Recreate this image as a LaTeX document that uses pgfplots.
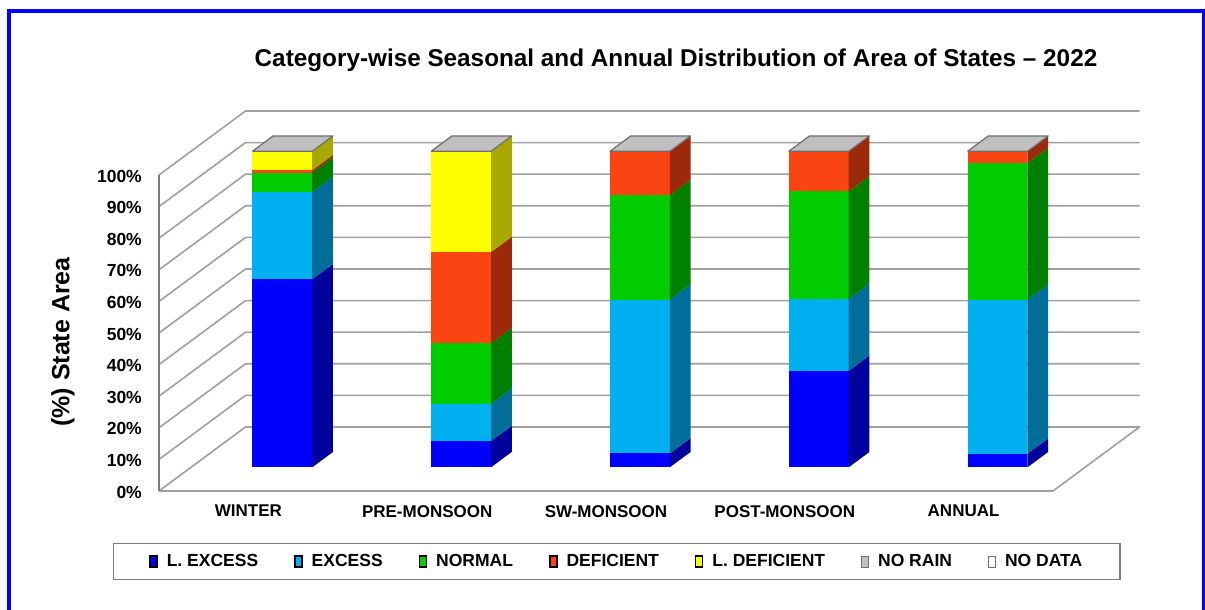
\documentclass[border=0pt]{standalone}
\usepackage{pgfplots}
\pgfplotsset{compat=1.18}
\usepackage{fontspec}
\setmainfont{Liberation Sans}

\definecolor{cLE}{HTML}{0000FF}\definecolor{cLEd}{HTML}{00009C}
\definecolor{cEX}{HTML}{00B0F0}\definecolor{cEXd}{HTML}{006E98}
\definecolor{cNO}{HTML}{00CC00}\definecolor{cNOd}{HTML}{008000}
\definecolor{cDE}{HTML}{FA4513}\definecolor{cDEd}{HTML}{9C2A0A}
\definecolor{cLD}{HTML}{FFFF00}\definecolor{cLDd}{HTML}{A8A800}
\definecolor{topc}{HTML}{C0C0C0}\definecolor{topd}{HTML}{6E6E6E}
\definecolor{gridc}{HTML}{A0A0A0}\definecolor{axc}{HTML}{7A7A7A}
\definecolor{frame}{HTML}{0000FF}

% one coloured segment of a bar: z0, z1, front colour, side colour (uses \xa, \xb)
\newcommand\seg[4]{%
  \addplot3[fill=#3,draw=none,forget plot] coordinates {(\xa,0.37,#1) (\xb,0.37,#1) (\xb,0.37,#2) (\xa,0.37,#2)};
  \addplot3[fill=#4,draw=none,forget plot] coordinates {(\xb,0.37,#1) (\xb,0.61,#1) (\xb,0.61,#2) (\xb,0.37,#2)};
}
% a stacked bar: centre, L.Excess, Excess, Normal, Deficient, L.Deficient
\newcommand\stackbar[6]{%
  \pgfmathsetmacro\ca{#2}%
  \pgfmathsetmacro\cb{#2+#3}%
  \pgfmathsetmacro\cc{#2+#3+#4}%
  \pgfmathsetmacro\cd{#2+#3+#4+#5}%
  \pgfmathsetmacro\ce{#2+#3+#4+#5+#6}%
  \pgfmathsetmacro\xa{#1-0.157}%
  \pgfmathsetmacro\xb{#1+0.178}%
  \seg{0}{\ca}{cLE}{cLEd}
  \seg{\ca}{\cb}{cEX}{cEXd}
  \seg{\cb}{\cc}{cNO}{cNOd}
  \seg{\cc}{\cd}{cDE}{cDEd}
  \seg{\cd}{\ce}{cLD}{cLDd}
  \addplot3[fill=topc,draw=topd,line width=1.2pt,line join=round,forget plot] coordinates {(\xa,0.37,\ce) (\xb,0.37,\ce) (\xb,0.61,\ce) (\xa,0.61,\ce) (\xa,0.37,\ce)};
}

\newcommand\tickfont{\fontsize{17.5}{20}\selectfont\bfseries}
\newcommand\catfont{\fontsize{17}{20}\selectfont\bfseries}
\newcommand\legfont{\fontsize{17.5}{20}\selectfont\bfseries}

\begin{document}
\begin{tikzpicture}
\useasboundingbox (0pt,0pt) rectangle (1205pt,610pt);
\fill[white] (0pt,0pt) rectangle (1205pt,610pt);
\begin{axis}[
  at={(159pt,119pt)}, anchor=origin,
  x={(178.8pt,0pt)}, y={(86.5pt,64pt)}, z={(0pt,3.16pt)},
  xmin=0, xmax=5, ymin=0, ymax=1, zmin=0, zmax=100,
  hide axis, clip=false,
  legend columns=7,
  legend image code/.code={\draw[#1] (0pt,-5.5pt) rectangle (7pt,5.5pt);},
  legend style={at={(axis cs:2.56,0,0)}, anchor=north, yshift=-52pt,
    draw=axc, line width=1.5pt, fill=white,
    inner xsep=36pt, inner ysep=9pt, font=\legfont,
    /tikz/every even column/.append style={column sep=34pt},
    /tikz/every odd column/.append style={column sep=7pt}},
]
% walls and floor
\pgfplotsinvokeforeach{10,20,...,100}{
  \addplot3[gridc,line width=1.6pt,forget plot] coordinates {(0,0,#1) (0,1,#1) (5,1,#1)};
}
\addplot3[gridc,line width=1.6pt,line join=round,forget plot] coordinates {(0,0,0) (0,1,0) (5,1,0) (5,0,0) (0,0,0)};
\addplot3[axc,line width=1.6pt,forget plot] coordinates {(0,0,0) (0,0,100)};

% bars
\stackbar{0.5}{59.5}{27.6}{6.1}{0.8}{6.0}
\stackbar{1.5}{8.3}{11.8}{19.1}{28.9}{31.9}
\stackbar{2.5}{4.4}{48.7}{33.0}{13.9}{0}
\stackbar{3.5}{30.5}{22.7}{34.1}{12.7}{0}
\stackbar{4.5}{4.3}{48.7}{43.3}{3.7}{0}

% tick labels
\pgfplotsinvokeforeach{0,10,...,100}{
  \node[anchor=east,inner sep=0pt,font=\tickfont,xshift=-17pt,yshift=-1pt] at (axis cs:0,0,#1) {#1\%};
}
% category labels
\node[anchor=north,inner sep=0pt,font=\catfont,yshift=-14pt] at (axis cs:0.5,0,0) {WINTER};
\node[anchor=north,inner sep=0pt,font=\catfont,yshift=-14pt] at (axis cs:1.5,0,0) {PRE-MONSOON};
\node[anchor=north,inner sep=0pt,font=\catfont,yshift=-14pt] at (axis cs:2.5,0,0) {SW-MONSOON};
\node[anchor=north,inner sep=0pt,font=\catfont,yshift=-14pt] at (axis cs:3.5,0,0) {POST-MONSOON};
\node[anchor=north,inner sep=0pt,font=\catfont,yshift=-14pt] at (axis cs:4.5,0,0) {ANNUAL};

% legend
\addlegendimage{fill=cLE,draw=none}\addlegendentry{L. EXCESS}
\addlegendimage{fill=cEX,draw=none}\addlegendentry{EXCESS}
\addlegendimage{fill=cNO,draw=none}\addlegendentry{NORMAL}
\addlegendimage{fill=cDE,draw=none}\addlegendentry{DEFICIENT}
\addlegendimage{fill=cLD,draw=none}\addlegendentry{L. DEFICIENT}
\addlegendimage{fill=topc,draw=topd,line width=1pt}\addlegendentry{NO RAIN}
\addlegendimage{fill=white,draw=topd,line width=1pt}\addlegendentry{NO DATA}
\end{axis}
\node[font=\fontsize{24.3}{29}\selectfont\bfseries] at (676pt,550pt) {Category-wise Seasonal and Annual Distribution of Area of States -- 2022};
\node[rotate=90,font=\fontsize{25}{30}\selectfont\bfseries] at (63pt,268pt) {(\%) State Area};
\draw[frame,line width=3.5pt] (9pt,-3pt) -- (9pt,599.2pt) -- (1203.5pt,599.2pt) -- (1203.5pt,-3pt);
\end{tikzpicture}
\end{document}
